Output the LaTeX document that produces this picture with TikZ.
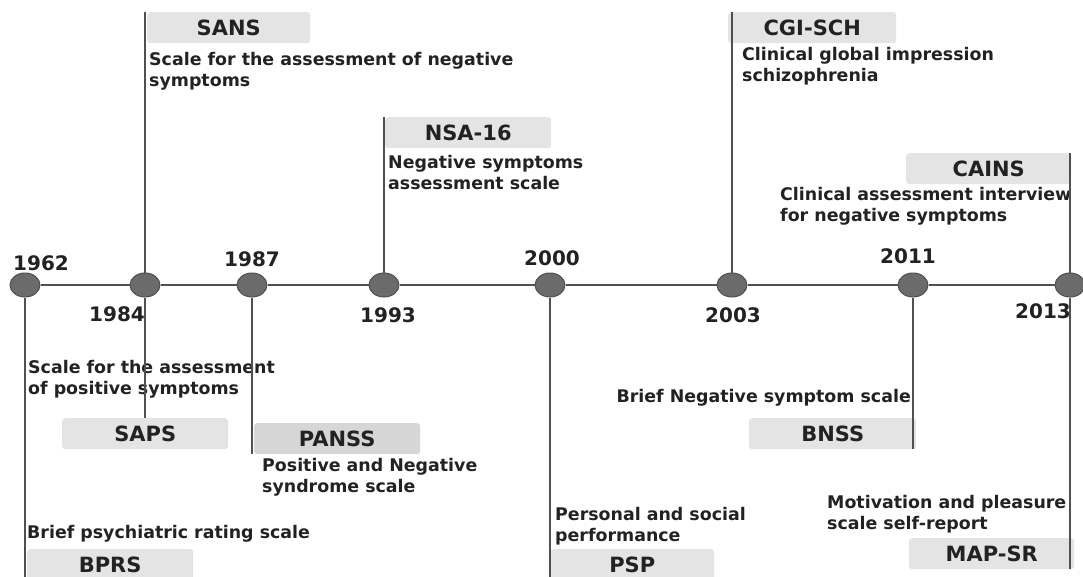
\documentclass[tikz,border=0pt]{standalone}
\usepackage{fontspec}
\setmainfont{DejaVu Sans}
\usetikzlibrary{shapes.geometric}
\definecolor{dotgray}{HTML}{6B6B6B}
\definecolor{linegray}{HTML}{505050}
\definecolor{boxgray}{HTML}{E4E4E4}
\definecolor{boxdark}{HTML}{D6D6D6}
\definecolor{inkgray}{HTML}{222222}
\begin{document}
\begin{tikzpicture}[x=1pt,y=-1pt,
  dot/.style={shape=ellipse,fill=dotgray,draw=linegray,line width=1pt,minimum width=30pt,minimum height=24pt,inner sep=0pt},
  year/.style={anchor=base,text=inkgray,font=\bfseries\fontsize{20}{24}\selectfont},
  tag/.style={anchor=north west,fill=boxgray,rounded corners=3pt,minimum height=31pt,inner sep=0pt,text=inkgray,font=\bfseries\fontsize{21}{24}\selectfont},
  note/.style={anchor=base west,align=left,inner sep=0pt,text=inkgray,font=\bfseries\fontsize{17.4}{21}\selectfont},
  stem/.style={draw=linegray,line width=2pt}]
  \useasboundingbox (0,0) rectangle (1083,576);
  \node[dot] (d1962) at (25,285) {};
  \node[dot] (d1984) at (145,285) {};
  \node[dot] (d1987) at (252,285) {};
  \node[dot] (d1993) at (384,285) {};
  \node[dot] (d2000) at (550,285) {};
  \node[dot] (d2003) at (732,285) {};
  \node[dot] (d2011) at (913,285) {};
  \node[dot] (d2013) at (1070,285) {};
  \node[year] (y1962) at (41,270) {1962};
  \node[year] (y1984) at (117,321) {1984};
  \node[year] (y1987) at (252,266) {1987};
  \node[year] (y1993) at (388,322) {1993};
  \node[year] (y2000) at (552,265) {2000};
  \node[year] (y2003) at (733,322) {2003};
  \node[year] (y2011) at (908,263) {2011};
  \node[year] (y2013) at (1043,318) {2013};
  \node[tag,minimum width=163pt] (sans) at (147,12) {SANS};
  \node[tag,minimum width=166pt] (nsa) at (385,117) {NSA-16};
  \node[tag,minimum width=168pt] (cgi) at (728,12) {CGI-SCH};
  \node[tag,minimum width=165pt] (cains) at (906,153) {CAINS};
  \node[tag,minimum width=166pt] (saps) at (62,418) {SAPS};
  \node[tag,minimum width=166pt,fill=boxdark] (panss) at (254,423) {PANSS};
  \node[tag,minimum width=166pt] (bprs) at (27,549) {BPRS};
  \node[tag,minimum width=164pt] (psp) at (550,549) {PSP};
  \node[tag,minimum width=167pt] (bnss) at (749,418) {BNSS};
  \node[tag,minimum width=165pt] (mapsr) at (909,538) {MAP-SR};
  \node[note] (sansnote) at (149,86) {Scale for the assessment of negative\\symptoms};
  \node[note] (nsanote) at (388,189) {Negative symptoms\\assessment scale};
  \node[note] (cginote) at (742,81) {Clinical global impression\\schizophrenia};
  \node[note] (cainsnote) at (780,221) {Clinical assessment interview\\for negative symptoms};
  \node[note] (sapsnote) at (28,394) {Scale for the assessment\\of positive symptoms};
  \node[note] (panssnote) at (262,492) {Positive and Negative\\syndrome scale};
  \node[note] (bprsnote) at (27,538) {Brief psychiatric rating scale};
  \node[note] (pspnote) at (555,541) {Personal and social\\performance};
  \node[note,anchor=base east] (bnssnote) at (911,402) {Brief Negative symptom scale};
  \node[note] (mapsrnote) at (827,529) {Motivation and pleasure\\scale self-report};
  \path[stem] (d1962) -- (d1984) -- (d1987) -- (d1993) -- (d2000) -- (d2003) -- (d2011) -- (d2013);
  \path[stem] (d1962) -- (d1962 |- bprs.south);
  \path[stem] (d1984) -- (d1984 |- sans.north);
  \path[stem] (d1984) -- (d1984 |- saps.north);
  \path[stem] (d1987) -- (d1987 |- panss.south);
  \path[stem] (d1993) -- (d1993 |- nsa.north);
  \path[stem] (d2000) -- (d2000 |- psp.south);
  \path[stem] (d2003) -- (d2003 |- cgi.north);
  \path[stem] (d2011) -- (d2011 |- bnss.south);
  \path[stem] (d2013) -- (d2013 |- cains.north);
  \path[stem] (d2013) -- (d2013 |- mapsr.south);
\end{tikzpicture}
\end{document}
